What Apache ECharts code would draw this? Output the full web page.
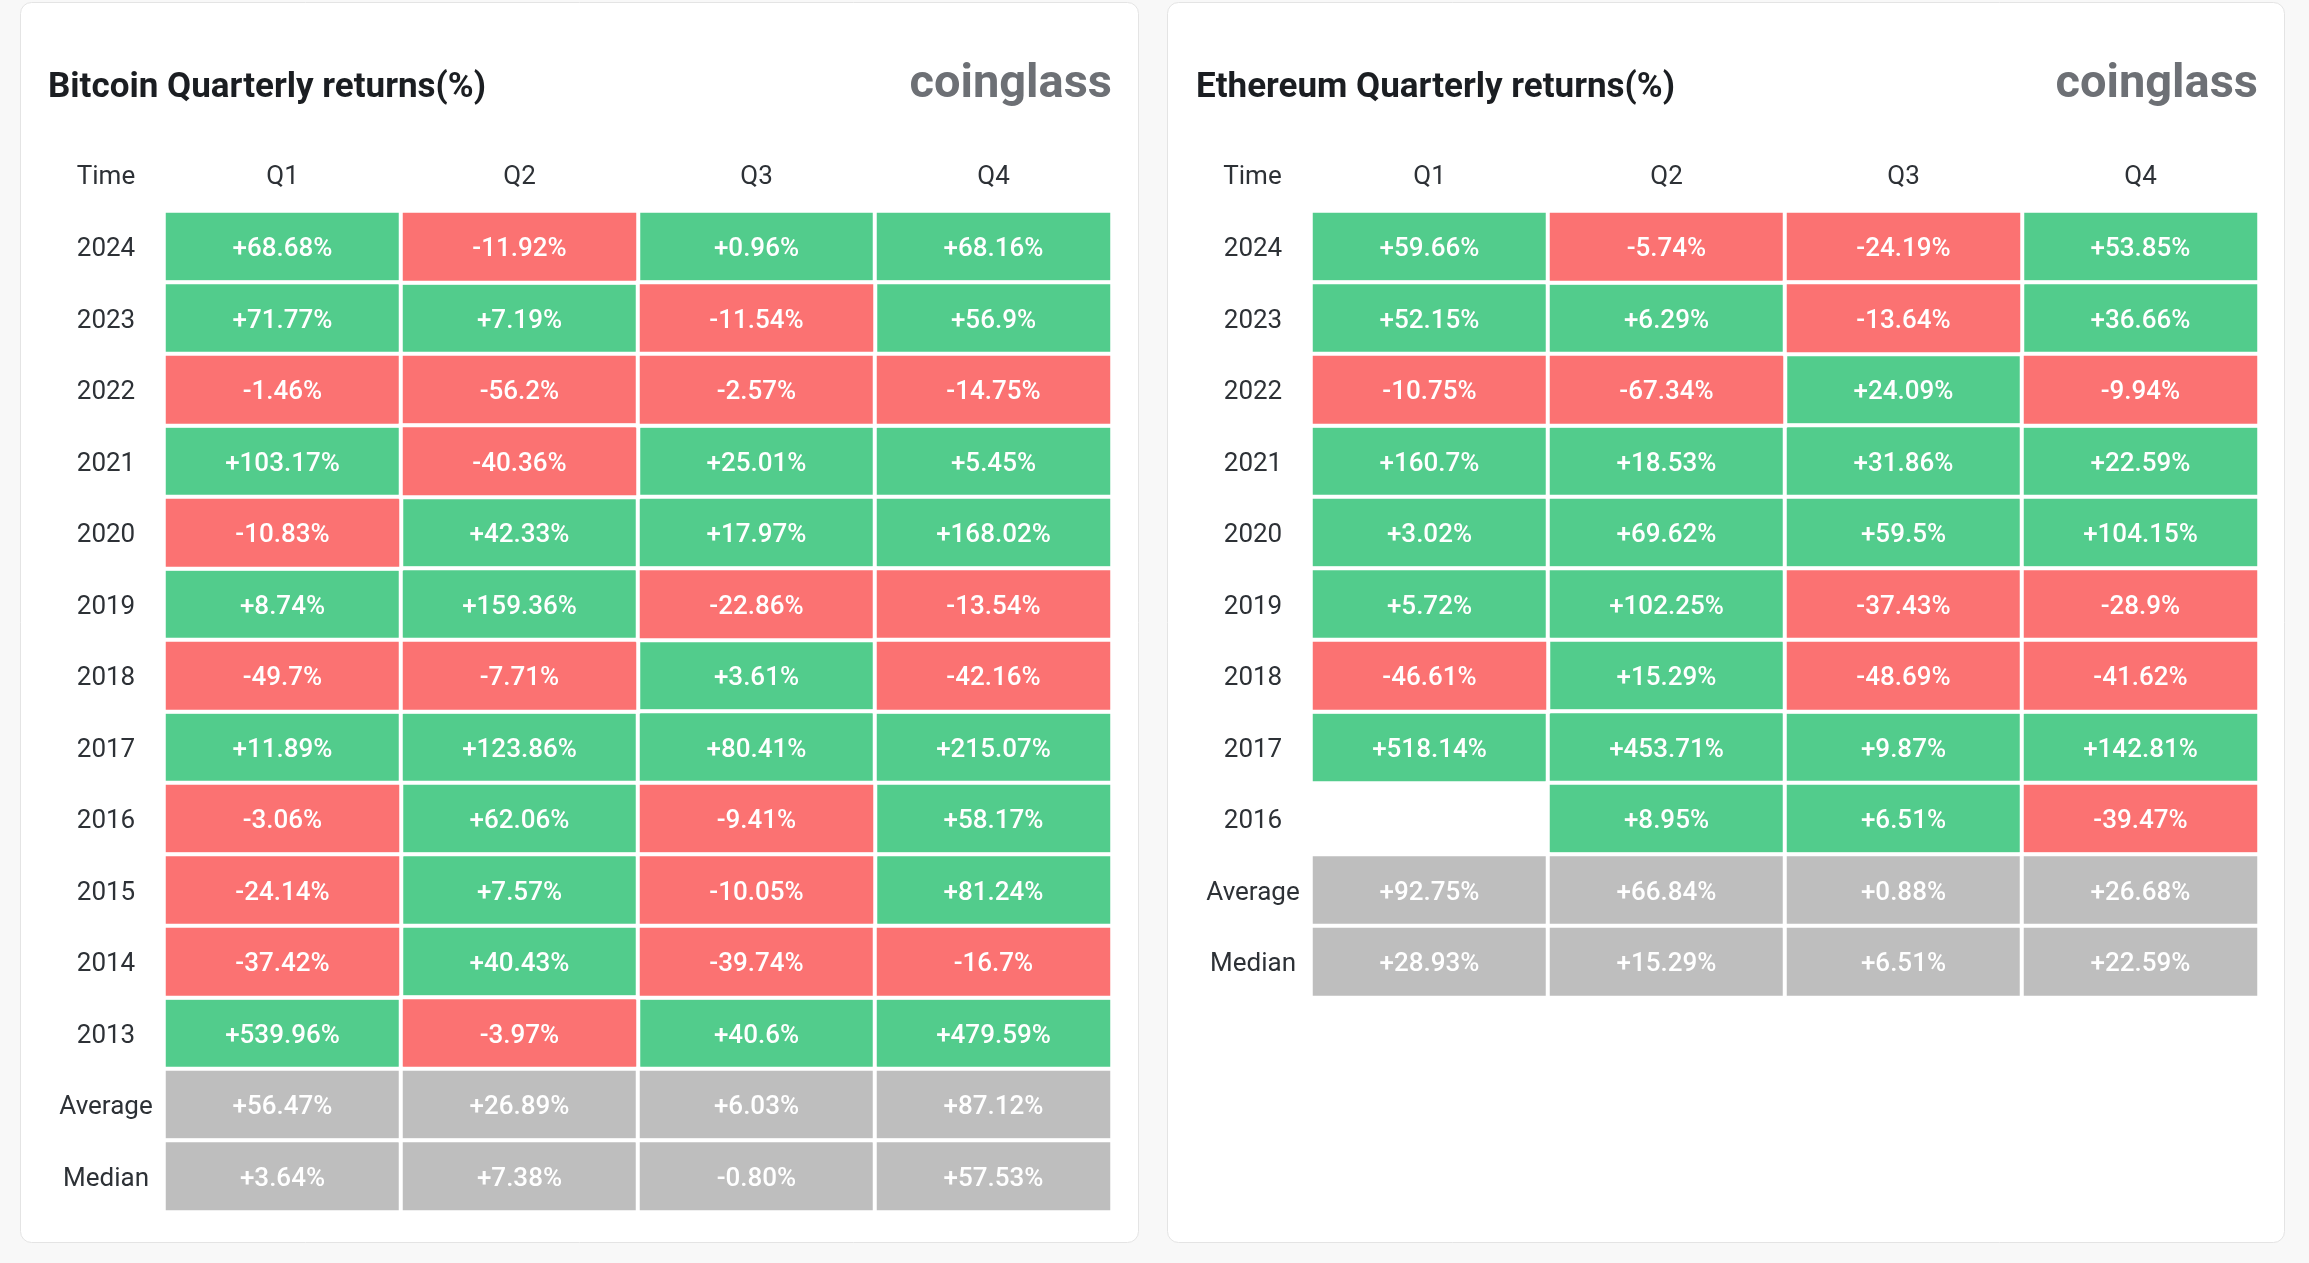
<!DOCTYPE html>
<html>
<head>
<meta charset="utf-8">
<script src="https://cdn.jsdelivr.net/npm/echarts@6/dist/echarts.min.js"></script>
<style>
html,body{margin:0;padding:0;background:#f8f8f8;}
#chart{width:2309px;height:1263px;}
</style>
</head>
<body>
<div id="chart"></div>
<script>
// ---- Data ----
var quarters = ['Q1', 'Q2', 'Q3', 'Q4'];

var btcRows = ['2024','2023','2022','2021','2020','2019','2018','2017','2016','2015','2014','2013','Average','Median'];
var btcQ1 = ['+68.68','+71.77','-1.46','+103.17','-10.83','+8.74','-49.7','+11.89','-3.06','-24.14','-37.42','+539.96','+56.47','+3.64'];
var btcQ2 = ['-11.92','+7.19','-56.2','-40.36','+42.33','+159.36','-7.71','+123.86','+62.06','+7.57','+40.43','-3.97','+26.89','+7.38'];
var btcQ3 = ['+0.96','-11.54','-2.57','+25.01','+17.97','-22.86','+3.61','+80.41','-9.41','-10.05','-39.74','+40.6','+6.03','-0.80'];
var btcQ4 = ['+68.16','+56.9','-14.75','+5.45','+168.02','-13.54','-42.16','+215.07','+58.17','+81.24','-16.7','+479.59','+87.12','+57.53'];

var ethRows = ['2024','2023','2022','2021','2020','2019','2018','2017','2016','Average','Median'];
var ethQ1 = ['+59.66','+52.15','-10.75','+160.7','+3.02','+5.72','-46.61','+518.14',null,'+92.75','+28.93'];
var ethQ2 = ['-5.74','+6.29','-67.34','+18.53','+69.62','+102.25','+15.29','+453.71','+8.95','+66.84','+15.29'];
var ethQ3 = ['-24.19','-13.64','+24.09','+31.86','+59.5','-37.43','-48.69','+9.87','+6.51','+0.88','+6.51'];
var ethQ4 = ['+53.85','+36.66','-9.94','+22.59','+104.15','-28.9','-41.62','+142.81','-39.47','+26.68','+22.59'];

var statRows = ['Average', 'Median'];

// ---- Styles ----
var GREEN = '#52cc8c';
var RED = '#fb7272';
var GRAY = '#bebebe';
var FONT = 'Roboto';
var LABEL_COLOR = '#2d3136';

function buildSeries(rows, cols, gi) {
  var up = [], down = [], stat = [];
  cols.forEach(function (col, x) {
    col.forEach(function (txt, y) {
      if (txt === null || txt === undefined) return;
      var item = { value: [x, y, parseFloat(txt)], txt: txt };
      if (statRows.indexOf(rows[y]) >= 0) stat.push(item);
      else if (txt.charAt(0) !== '-') up.push(item);
      else down.push(item);
    });
  });
  function mk(name, data, color) {
    return {
      name: name,
      type: 'heatmap',
      xAxisIndex: gi,
      yAxisIndex: gi,
      data: data,
      itemStyle: { color: color, borderColor: '#ffffff', borderWidth: 4 },
      label: {
        show: true,
        color: '#ffffff',
        fontFamily: FONT,
        fontSize: 26,
        fontWeight: 500,
        offset: [0, 3],
        formatter: function (p) { return p.data.txt + '%'; }
      },
      emphasis: { disabled: true },
      animation: false
    };
  }
  return [mk('up' + gi, up, GREEN), mk('down' + gi, down, RED), mk('stat' + gi, stat, GRAY)];
}

var ROW_H = 71.5;
function xAxisFor(gi) {
  return {
    type: 'category', gridIndex: gi, data: quarters, position: 'top',
    axisLine: { show: false }, axisTick: { show: false }, splitLine: { show: false },
    axisLabel: { fontFamily: FONT, fontSize: 26, color: LABEL_COLOR, margin: 34, verticalAlign: 'middle' }
  };
}
function yAxisFor(gi, rows) {
  return {
    type: 'category', gridIndex: gi, data: rows, inverse: true,
    axisLine: { show: false }, axisTick: { show: false }, splitLine: { show: false },
    axisLabel: { fontFamily: FONT, fontSize: 26, color: LABEL_COLOR, margin: 58, align: 'center', verticalAlign: 'top', lineHeight: 6 }
  };
}

function panelRect(x, w) {
  return {
    type: 'rect', z: 0, silent: true,
    shape: { x: x, y: 2.5, width: w, height: 1240, r: 11 },
    style: { fill: '#ffffff', stroke: '#e4e4e4', lineWidth: 1 }
  };
}
function txt(x, y, text, size, weight, color, align) {
  return {
    type: 'text', z: 10, silent: true, x: x, y: y,
    style: { text: text, fontFamily: FONT, fontSize: size, fontWeight: weight, fill: color, align: align, verticalAlign: 'middle' }
  };
}

var chart = echarts.init(document.getElementById('chart'), null, { renderer: 'canvas' });
chart.setOption({
  backgroundColor: '#f8f8f8',
  animation: false,
  graphic: [
    panelRect(20.5, 1118),
    panelRect(1167.5, 1117),
    txt(48, 88, 'Bitcoin Quarterly returns(%)', 35, 'bold', '#1b1e22', 'left'),
    txt(1196, 88, 'Ethereum Quarterly returns(%)', 35, 'bold', '#1b1e22', 'left'),
    txt(1112, 85, 'coinglass', 47, 'bold', '#6d7075', 'right'),
    txt(2258, 85, 'coinglass', 47, 'bold', '#6d7075', 'right'),
    txt(106, 177, 'Time', 26, 'normal', LABEL_COLOR, 'center'),
    txt(1252.5, 177, 'Time', 26, 'normal', LABEL_COLOR, 'center')
  ],
  grid: [
    { left: 164, top: 211, width: 948, height: ROW_H * btcRows.length },
    { left: 1311, top: 211, width: 948, height: ROW_H * ethRows.length }
  ],
  xAxis: [xAxisFor(0), xAxisFor(1)],
  yAxis: [yAxisFor(0, btcRows), yAxisFor(1, ethRows)],
  series: buildSeries(btcRows, [btcQ1, btcQ2, btcQ3, btcQ4], 0)
    .concat(buildSeries(ethRows, [ethQ1, ethQ2, ethQ3, ethQ4], 1))
});
</script>
</body>
</html>
